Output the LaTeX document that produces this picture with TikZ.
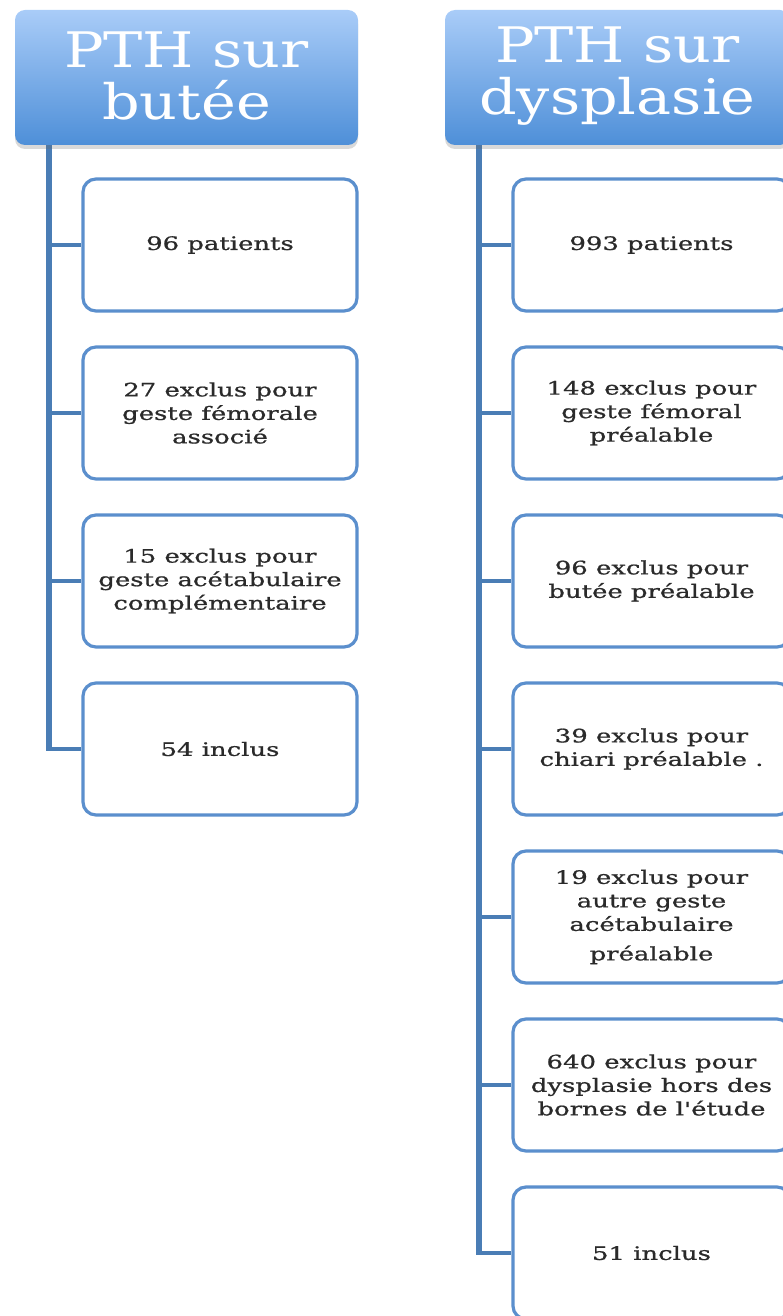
\documentclass[tikz,border=0pt]{standalone}
\usepackage{fontspec}
\usetikzlibrary{shadows,backgrounds}
\newfontfamily\hdrfont[FakeStretch=1.2]{DejaVu Serif}
\newfontfamily\boxfont[FakeStretch=1.4,FakeBold=0.9]{DejaVu Serif}
\definecolor{hdrtop}{HTML}{A9CCF8}
\definecolor{hdrbot}{HTML}{4E8FD8}
\definecolor{spinec}{HTML}{4A7DB5}
\definecolor{boxline}{HTML}{5B8FCD}
\definecolor{txt}{HTML}{2A2A2A}
\tikzset{
  hdr/.style={rectangle, rounded corners=10pt, top color=hdrtop, bottom color=hdrbot,
    draw=none, text=white, align=center, inner sep=0pt,
    drop shadow={shadow xshift=0pt, shadow yshift=-4pt, opacity=0.25, fill=black!60}},
  hdrtext/.style={text=white, align=center, font=\hdrfont\fontsize{49}{52}\selectfont},
  itembox/.style={rectangle, rounded corners=13pt, draw=boxline, line width=3.2pt,
    fill=white, align=center, text=txt, inner sep=0pt,
    font=\boxfont\fontsize{18.5}{23.5}\selectfont},
  spine/.style={draw=spinec, line width=6pt},
  branch/.style={draw=spinec, line width=4pt},
}
\begin{document}
\begin{tikzpicture}[x=1pt,y=-1pt]
\useasboundingbox (0,0) rectangle (783,1316);
\clip (0,0) rectangle (783,1316);
% headers
\node[hdr, minimum width=343pt, minimum height=135pt] (hL) at (186.5,77.5) {};
\node[hdrtext] (hLt) at (186.5,76) {PTH sur\\butée};
\node[hdr, minimum width=345pt, minimum height=135pt] (hR) at (617.5,77.5) {};
\node[hdrtext] (hRt) at (617.5,76) {PTH sur\\dysplasie};
\coordinate (sL) at (49,145);
\coordinate (sR) at (479,145);
% left boxes
\node[itembox, minimum width=274pt, minimum height=132pt] (L1) at (220,245) {96 patients};
\node[itembox, minimum width=274pt, minimum height=132pt] (L2) at (220,413) {27 exclus pour\\geste fémorale\\associé};
\node[itembox, minimum width=274pt, minimum height=132pt] (L3) at (220,581) {15 exclus pour\\geste acétabulaire\\complémentaire};
\node[itembox, minimum width=274pt, minimum height=132pt] (L4) at (220,749) {54 inclus};
% right boxes
\node[itembox, minimum width=277pt, minimum height=132pt] (R1) at (651.5,245) {993 patients};
\node[itembox, minimum width=277pt, minimum height=132pt] (R2) at (651.5,413) {148 exclus pour\\geste fémoral\\préalable};
\node[itembox, minimum width=277pt, minimum height=132pt] (R3) at (651.5,581) {96 exclus pour\\butée préalable};
\node[itembox, minimum width=277pt, minimum height=132pt] (R4) at (651.5,749) {39 exclus pour\\chiari préalable .};
\node[itembox, minimum width=277pt, minimum height=132pt] (R5) at (651.5,917) {19 exclus pour\\autre geste\\acétabulaire\\[6pt]préalable};
\node[itembox, minimum width=277pt, minimum height=132pt] (R6) at (651.5,1085) {640 exclus pour\\dysplasie hors des\\bornes de l'étude};
\node[itembox, minimum width=277pt, minimum height=132pt] (R7) at (651.5,1253) {51 inclus};
% connectors
\begin{scope}[on background layer]
\draw[spine] (sL) -- (sL |- L4.west);
\foreach \b in {L1,L2,L3,L4} \draw[branch] ([xshift=-3pt]sL |- \b.west) -- (\b.west);
\draw[spine] (sR) -- (sR |- R7.west);
\foreach \b in {R1,R2,R3,R4,R5,R6,R7} \draw[branch] ([xshift=-3pt]sR |- \b.west) -- (\b.west);
\end{scope}
\end{tikzpicture}
\end{document}
